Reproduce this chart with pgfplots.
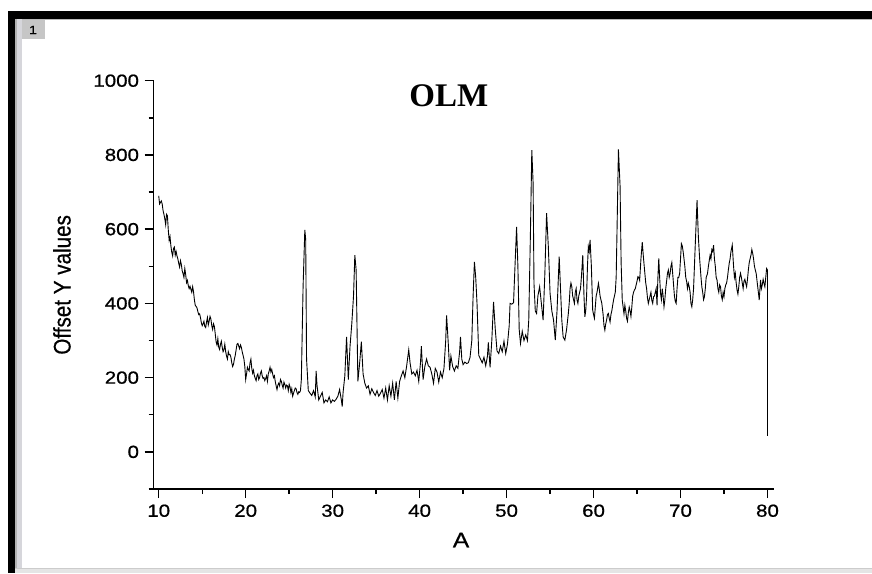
\documentclass[border=0pt]{standalone}
\usepackage{fontspec}
\setmainfont{Liberation Sans}
\newfontfamily\tickfont[FakeStretch=1.17,FakeBold=0.8]{Liberation Sans}
\newfontfamily\ylabfont[FakeStretch=0.86,FakeBold=0.6]{Liberation Sans}
\newfontfamily\titlefont{Liberation Serif}
\usepackage{pgfplots}
\pgfplotsset{compat=1.18}
\usepackage{pgfplotstable}
\pgfplotstableread{
x y
10.0 690
10.1 668
10.2 672
10.3 676
10.4 668
10.5 650
10.6 640
10.7 628
10.8 612
10.9 640
11.0 636
11.1 598
11.2 570
11.3 580
11.4 555
11.5 538
11.6 528
11.7 548
11.8 552
11.9 530
12.0 540
12.1 528
12.2 520
12.3 508
12.4 498
12.5 515
12.6 505
12.7 488
12.8 480
12.9 470
13.0 494
13.1 478
13.2 456
13.3 462
13.4 448
13.5 440
13.6 446
13.7 438
13.8 430
13.9 445
14.0 432
14.1 410
14.2 395
14.3 392
14.4 388
14.5 378
14.6 370
14.7 372
14.8 362
14.9 348
15.0 340
15.1 345
15.2 352
15.3 338
15.4 335
15.5 350
15.6 362
15.7 342
15.8 352
15.9 365
16.0 358
16.1 340
16.2 330
16.3 345
16.4 338
16.5 318
16.6 296
16.7 288
16.8 305
16.9 282
17.0 276
17.1 290
17.2 298
17.3 282
17.4 270
17.5 275
17.6 290
17.7 270
17.8 258
17.9 250
18.0 270
18.1 262
18.2 262
18.3 255
18.4 240
18.5 230
18.6 236
18.7 250
18.8 260
18.9 275
19.0 290
19.1 292
19.2 285
19.3 278
19.4 288
19.5 282
19.6 270
19.7 260
19.8 250
19.9 230
20.0 195
20.1 210
20.2 228
20.3 222
20.4 218
20.5 240
20.6 250
20.7 225
20.8 212
20.9 220
21.0 205
21.1 198
21.2 192
21.3 205
21.4 210
21.5 195
21.6 200
21.7 212
21.8 218
21.9 205
22.0 198
22.1 200
22.2 192
22.3 198
22.4 205
22.5 190
22.6 210
22.7 218
22.8 228
22.9 215
23.0 222
23.1 210
23.2 200
23.3 205
23.4 190
23.5 178
23.6 168
23.7 180
23.8 185
23.9 178
24.0 195
24.1 190
24.2 180
24.3 172
24.4 188
24.5 182
24.6 172
24.7 180
24.8 178
24.9 165
25.0 182
25.1 175
25.2 160
25.3 170
25.4 150
25.5 158
25.6 165
25.7 172
25.8 170
25.9 160
26.0 155
26.1 162
26.2 160
26.3 165
26.4 195
26.6 445
26.8 598
26.9 572
27.0 250
27.2 165
27.4 158
27.6 152
27.8 165
28.0 148
28.1 218
28.2 180
28.4 140
28.6 150
28.8 160
29.0 132
29.2 140
29.4 135
29.6 148
29.8 132
30.0 140
30.2 136
30.4 142
30.6 150
30.8 168
31.0 140
31.1 122
31.2 160
31.4 205
31.6 310
31.8 195
32.0 285
32.2 345
32.4 420
32.55 530
32.7 490
32.9 190
33.1 238
33.3 297
33.5 210
33.7 185
33.9 172
34.1 178
34.3 155
34.5 170
34.7 160
34.9 152
35.1 165
35.3 150
35.5 158
35.7 168
35.9 145
36.1 172
36.3 140
36.5 178
36.7 150
36.9 185
37.1 140
37.3 190
37.5 145
37.7 190
37.9 205
38.1 218
38.3 200
38.5 230
38.75 275
38.9 240
39.1 210
39.3 215
39.5 205
39.7 220
39.9 190
40.1 240
40.2 285
40.4 195
40.6 230
40.8 250
41.0 232
41.2 228
41.4 210
41.6 185
41.8 225
42.0 215
42.2 188
42.4 215
42.6 200
42.8 225
43.0 300
43.1 368
43.3 290
43.45 220
43.6 258
43.8 230
44.0 218
44.2 232
44.4 225
44.6 270
44.7 310
44.85 250
45.0 235
45.2 242
45.4 238
45.6 240
45.8 255
46.0 300
46.15 420
46.3 512
46.45 470
46.6 400
46.8 260
47.0 250
47.2 240
47.4 255
47.6 232
47.8 258
47.9 295
48.1 228
48.3 300
48.5 404
48.7 330
48.9 272
49.1 265
49.3 285
49.5 270
49.7 298
49.9 265
50.1 290
50.3 340
50.4 400
50.6 398
50.8 402
51.0 520
51.15 606
51.3 500
51.45 330
51.6 292
51.8 325
52.0 300
52.2 315
52.4 300
52.55 355
52.75 600
52.9 813
53.05 724
53.15 454
53.3 380
53.45 373
53.6 420
53.8 445
54.0 400
54.2 355
54.4 480
54.6 643
54.8 553
55.0 427
55.2 380
55.4 355
55.6 301
55.8 380
56.05 526
56.2 440
56.35 355
56.5 310
56.7 301
56.9 330
57.1 373
57.2 400
57.3 440
57.4 455
57.5 445
57.6 420
57.7 410
57.8 400
57.9 430
58.0 440
58.1 409
58.2 400
58.3 420
58.4 430
58.5 440
58.6 470
58.76 530
58.9 420
59.0 364
59.1 380
59.2 420
59.3 500
59.4 553
59.5 540
59.6 571
59.75 500
59.9 382
60.0 370
60.1 360
60.2 390
60.3 420
60.4 430
60.56 454
60.65 440
60.75 420
60.85 410
60.95 400
61.0 390
61.1 370
61.2 340
61.3 328
61.4 345
61.5 355
61.6 370
61.7 373
61.8 360
61.9 350
62.0 370
62.1 380
62.2 395
62.3 409
62.4 420
62.5 430
62.6 470
62.7 598
62.86 815
63.05 716
63.17 510
63.3 409
63.4 390
63.5 372
63.6 395
63.7 380
63.8 360
63.9 352
64.0 375
64.1 390
64.2 380
64.3 365
64.4 390
64.5 420
64.6 430
64.7 436
64.8 440
64.9 450
65.0 460
65.1 472
65.2 470
65.3 462
65.45 520
65.6 565
65.75 520
65.9 481
66.0 455
66.1 440
66.2 415
66.3 400
66.4 410
66.5 420
66.6 430
66.7 408
66.8 400
66.9 418
67.0 420
67.1 430
67.2 440
67.3 395
67.4 470
67.5 521
67.6 470
67.7 427
67.8 410
67.9 440
68.0 420
68.1 391
68.2 410
68.3 440
68.4 460
68.5 481
68.6 490
68.7 470
68.8 480
68.9 500
69.0 510
69.1 480
69.2 450
69.3 420
69.4 405
69.5 400
69.6 440
69.7 470
69.8 470
69.9 481
70.0 520
70.1 561
70.2 555
70.3 540
70.4 520
70.5 499
70.6 470
70.7 460
70.8 440
70.9 454
71.0 445
71.1 430
71.2 400
71.3 391
71.4 410
71.5 440
71.6 500
71.7 561
71.9 678
72.05 580
72.2 520
72.35 472
72.45 445
72.55 430
72.65 410
72.75 418
72.85 440
72.95 470
73.1 480
73.2 499
73.3 515
73.4 530
73.5 520
73.6 545
73.7 540
73.8 557
73.9 520
74.0 500
74.1 470
74.2 463
74.3 440
74.4 430
74.5 450
74.6 445
74.7 420
74.8 410
74.9 430
75.0 418
75.1 440
75.2 450
75.3 455
75.4 470
75.5 490
75.6 508
75.7 520
75.8 540
75.95 557
76.1 500
76.2 470
76.3 481
76.4 455
76.5 436
76.6 425
76.7 445
76.8 470
76.9 481
77.0 470
77.1 455
77.2 440
77.3 460
77.4 465
77.5 454
77.6 445
77.7 465
77.8 490
77.9 510
78.0 520
78.1 530
78.2 545
78.3 535
78.4 520
78.5 500
78.6 490
78.7 481
78.8 460
78.9 440
79.0 420
79.05 409
79.2 463
79.3 440
79.4 450
79.5 465
79.6 454
79.7 445
79.8 470
79.9 494
80.0 490
80.0 43
}\olmdata
\begin{document}
\begin{tikzpicture}
\useasboundingbox (0,0) rectangle (872pt,573pt);
% window frame
\fill[white] (0,0) rectangle (872pt,573pt);
\fill[black] (8pt,554pt) rectangle (872pt,562pt);
\fill[gray!55] (15pt,552.5pt) rectangle (872pt,554pt);
\fill[black] (8pt,0pt) rectangle (15pt,562pt);
\fill[gray!60] (15pt,0pt) rectangle (17pt,554pt);
\fill[blue!6!gray!30] (17pt,0pt) rectangle (22pt,554pt);
\fill[gray!20] (15pt,0pt) rectangle (872pt,5pt);
\fill[gray!40] (15pt,4.5pt) rectangle (872pt,5.5pt);
\fill[gray!45] (22pt,534pt) rectangle (45pt,552.5pt);
\node[font=\tickfont\fontsize{12}{14}\selectfont] at (33pt,543pt) {1};
\begin{axis}[
  at={(153.5pt,84pt)}, anchor=south west,
  scale only axis, width=620.5pt, height=408.3pt,
  xmin=9.4, xmax=80.75, ymin=-100, ymax=1000,
  axis lines=left,
  axis line style={-, line width=1.5pt, black},
  xtick={10,20,...,80}, minor xtick={15,25,...,75},
  ytick={0,200,...,1000}, minor ytick={-100,100,...,900},
  tick align=outside,
  major tick length=9pt, minor tick length=5pt,
  every tick/.style={line width=1.4pt, black},
  /pgf/number format/assume math mode=true,
  /pgf/number format/1000 sep={},
  tick label style={font=\tickfont\fontsize{17.5}{19}\selectfont, black},
  xticklabel style={yshift=-3pt},
  yticklabel style={xshift=-2pt},
  xlabel={A},
  xlabel style={font=\tickfont\fontsize{21}{23}\selectfont, at={(axis description cs:0.4956,-0.125)}, anchor=center},
  ylabel={Offset Y values},
  ylabel style={font=\ylabfont\fontsize{24}{26}\selectfont, at={(axis description cs:-0.1475,0.5)}, anchor=center, rotate=0},
  title={\textbf{OLM}},
  title style={font=\titlefont\fontsize{33}{36}\selectfont, at={(axis description cs:0.476,0.948)}, anchor=center},
]
\addplot[black, line width=0.9pt, no markers] table[x=x, y=y] {\olmdata};
\end{axis}
\end{tikzpicture}
\end{document}
